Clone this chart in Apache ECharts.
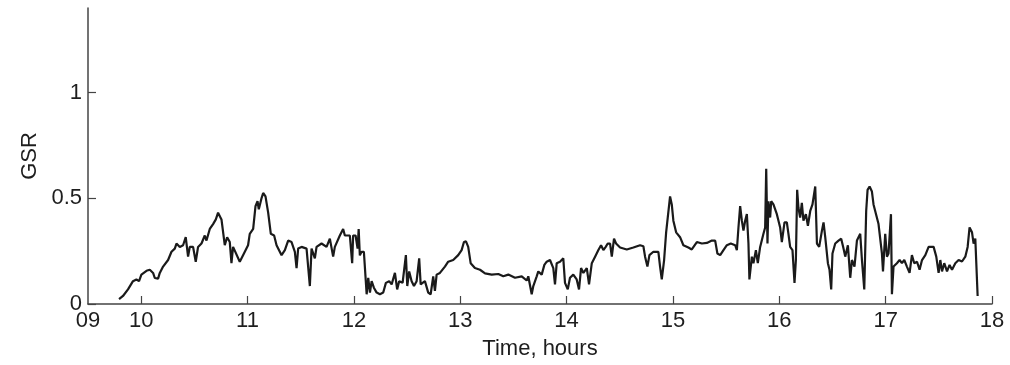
<!DOCTYPE html>
<html>
<head>
<meta charset="utf-8">
<script src="https://cdn.jsdelivr.net/npm/echarts@6/dist/echarts.min.js"></script>
<style>
html,body{margin:0;padding:0;background:#fff;}
#chart{width:1010px;height:365px;}
</style>
</head>
<body>
<div id="chart"></div>
<script>
// Time in hours
const times = [
9.792,9.829,9.876,9.923,9.955,9.980,10.002,10.050,10.081,10.112,10.128,10.159,10.175,10.206,10.253,10.285,10.316,10.332,10.363,10.394,10.419,10.441,10.457,10.488,10.513,10.535,10.567,10.598,10.614,10.645,10.676,10.702,10.723,10.733,10.755,10.786,10.808,10.833,10.849,10.864,
10.880,10.927,10.958,11.005,11.021,11.053,11.075,11.094,11.106,11.132,11.147,11.169,11.194,11.219,11.250,11.273,11.320,11.351,11.382,11.414,11.445,11.461,11.476,11.508,11.555,11.586,11.602,11.633,11.649,11.696,11.743,11.774,11.805,11.821,11.868,11.899,11.915,11.962,11.984,11.993,12.016,12.035,12.045,12.056,
12.072,12.094,12.104,12.120,12.135,12.151,12.167,12.188,12.214,12.245,12.276,12.301,12.332,12.355,12.386,12.407,12.426,12.458,12.489,12.502,12.520,12.543,12.565,12.590,12.614,12.628,12.668,12.699,12.722,12.746,12.762,12.778,12.809,12.856,12.887,12.934,12.981,13.013,13.035,13.054,13.075,13.098,13.138,13.186,13.233,
13.296,13.358,13.405,13.452,13.515,13.578,13.625,13.640,13.672,13.687,13.719,13.734,13.766,13.791,13.813,13.844,13.875,13.891,13.907,13.938,13.969,13.985,14.011,14.032,14.063,14.095,14.117,14.136,14.158,14.190,14.211,14.237,14.268,14.299,14.324,14.346,14.368,14.387,14.409,
14.425,14.446,14.465,14.503,14.566,14.628,14.691,14.722,14.738,14.760,14.779,14.816,14.863,14.879,14.895,14.917,14.936,14.948,14.973,14.989,15.004,15.030,15.067,15.098,15.145,15.177,15.225,15.272,15.319,15.366,15.397,15.418,15.444,15.475,15.507,15.544,15.585,
15.601,15.616,15.632,15.648,15.663,15.679,15.695,15.710,15.719,15.742,15.757,15.780,15.798,15.820,15.851,15.867,15.877,15.889,15.898,15.914,15.924,15.945,15.977,16.008,16.024,16.049,16.071,16.086,16.102,16.124,16.143,16.156,16.168,16.180,16.196,16.212,16.227,16.250,16.269,16.291,16.312,16.338,16.354,16.375,16.401,16.416,16.432,16.457,16.472,16.488,16.500,16.526,16.557,16.582,16.604,16.620,16.645,16.667,16.683,16.707,16.730,16.761,
16.777,16.799,16.817,16.830,16.849,16.871,16.886,16.902,16.933,16.965,16.975,16.996,17.012,17.027,17.050,17.059,17.074,17.106,17.131,17.153,17.175,17.200,17.225,17.247,17.269,17.295,17.319,17.342,17.373,17.404,17.451,17.476,17.498,17.514,17.530,17.551,17.577,17.601,17.624,17.655,17.686,17.718,17.749,17.771,17.789,17.812,17.827,17.843,17.859,17.865
];
// GSR values
const gsr = [
0.023,0.038,0.069,0.108,0.116,0.108,0.139,0.157,0.162,0.147,0.123,0.120,0.147,0.177,0.208,0.247,0.262,0.286,0.270,0.278,0.316,0.224,0.270,0.270,0.200,0.270,0.286,0.324,0.300,0.355,0.378,0.400,0.432,0.440,0.400,0.278,0.316,0.293,0.193,0.270,
0.270,0.200,0.231,0.278,0.332,0.355,0.463,0.486,0.448,0.501,0.525,0.509,0.432,0.332,0.324,0.278,0.231,0.255,0.300,0.293,0.247,0.170,0.262,0.270,0.262,0.085,0.262,0.216,0.270,0.286,0.270,0.309,0.224,0.270,0.324,0.355,0.324,0.324,0.193,0.324,0.324,0.262,0.355,0.230,
0.247,0.247,0.170,0.046,0.124,0.054,0.108,0.077,0.054,0.046,0.054,0.100,0.108,0.093,0.147,0.069,0.108,0.100,0.231,0.085,0.154,0.108,0.085,0.108,0.216,0.093,0.108,0.054,0.046,0.131,0.062,0.139,0.147,0.177,0.200,0.208,0.231,0.255,0.293,0.296,0.270,0.193,0.170,0.162,0.145,
0.139,0.142,0.131,0.139,0.124,0.131,0.111,0.131,0.046,0.085,0.131,0.154,0.139,0.185,0.200,0.208,0.170,0.093,0.193,0.200,0.216,0.100,0.069,0.124,0.139,0.116,0.069,0.170,0.147,0.170,0.093,0.193,0.224,0.255,0.278,0.255,0.270,0.286,0.286,
0.224,0.309,0.286,0.267,0.258,0.267,0.278,0.273,0.224,0.177,0.231,0.247,0.247,0.177,0.116,0.208,0.339,0.394,0.509,0.471,0.394,0.339,0.316,0.278,0.267,0.258,0.293,0.286,0.289,0.300,0.300,0.239,0.231,0.255,0.278,0.286,0.278,
0.255,0.362,0.463,0.394,0.347,0.394,0.425,0.286,0.116,0.224,0.193,0.255,0.193,0.270,0.332,0.362,0.640,0.286,0.486,0.409,0.486,0.471,0.425,0.362,0.293,0.386,0.386,0.332,0.270,0.255,0.100,0.208,0.540,0.455,0.409,0.478,0.394,0.425,0.370,0.440,0.471,0.556,0.286,0.270,0.347,0.386,0.316,0.193,0.162,0.069,0.239,0.286,0.300,0.309,0.262,0.224,0.278,0.124,0.208,0.177,0.300,0.332,
0.208,0.069,0.440,0.540,0.556,0.532,0.471,0.471,0.378,0.239,0.154,0.332,0.224,0.239,0.425,0.046,0.177,0.193,0.208,0.193,0.208,0.177,0.147,0.231,0.193,0.200,0.162,0.208,0.231,0.270,0.270,0.224,0.147,0.208,0.154,0.193,0.154,0.185,0.162,0.193,0.208,0.201,0.224,0.270,0.362,0.339,0.286,0.309,0.309,0.038
];
const xTickValues = [10,11,12,13,14,15,16,17,18];
const xLabelValues = [9.5,10,11,12,13,14,15,16,17,18];
const yTickValues = [0,0.5,1];

const seriesData = times.map((t,i)=>[t,gsr[i]]);
const font = '"Liberation Sans", Arial, Helvetica, sans-serif';
const textColor = '#1e1e1e';
const axisColor = '#444';

const chart = echarts.init(document.getElementById('chart'), null, {renderer:'canvas'});
chart.setOption({
  animation:false,
  backgroundColor:'#ffffff',
  grid:{left:88,right:18,top:8,bottom:55,containLabel:false},
  xAxis:{
    type:'value', min:9.5, max:18,
    axisLine:{show:true,onZero:false,lineStyle:{color:axisColor,width:1.5}},
    axisTick:{show:true,inside:true,length:8,customValues:xTickValues,lineStyle:{color:axisColor,width:1.2}},
    axisLabel:{customValues:xLabelValues,margin:6,color:textColor,fontSize:22,fontFamily:font,
      formatter:function(v){return v===9.5?'09':String(v);}},
    splitLine:{show:false},
    name:'Time, hours', nameLocation:'middle', nameGap:34,
    nameTextStyle:{color:textColor,fontSize:22,fontFamily:font}
  },
  yAxis:{
    type:'value', min:0, max:1.4,
    axisLine:{show:true,lineStyle:{color:axisColor,width:1.5}},
    axisTick:{show:true,inside:true,length:8,customValues:yTickValues,lineStyle:{color:axisColor,width:1.2}},
    axisLabel:{customValues:yTickValues,margin:6,color:textColor,fontSize:22,fontFamily:font},
    splitLine:{show:false},
    name:'GSR', nameLocation:'middle', nameGap:46, nameRotate:90,
    nameTextStyle:{color:textColor,fontSize:22,fontFamily:font}
  },
  series:[{
    type:'line', data:seriesData, showSymbol:false, symbol:'none',
    lineStyle:{color:'#1a1a1a',width:2.2}, silent:true
  }]
});
</script>
</body>
</html>
